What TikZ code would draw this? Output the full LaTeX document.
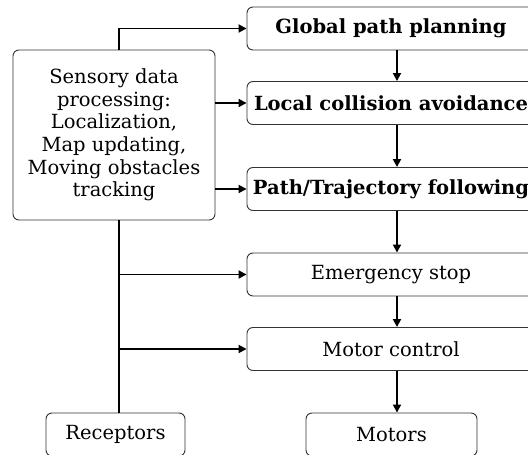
\documentclass[tikz,border=0pt]{standalone}
\usepackage{fontspec}
\setmainfont{DejaVu Serif}
\usetikzlibrary{arrows.meta, positioning, calc}

\begin{document}
\begin{tikzpicture}[x=1pt, y=-1pt,
    block/.style={draw=black!80, line width=0.9pt, rounded corners=6pt,
      align=center, font=\fontsize{19.5}{22.7}\selectfont, inner sep=0pt},
    wide/.style={block, minimum width=288pt, minimum height=43pt},
    bold/.style={font=\fontsize{19.5}{22.7}\bfseries},
    link/.style={line width=1.8pt, -{Triangle[length=8pt, width=8pt]}}]
  \useasboundingbox (0,0) rectangle (528,455);
  % Planner column
  \node[wide, bold] (glob) at (391,28.5) {Global path planning};
  \node[wide, bold] (local) at (391,103) {Local collision avoidance};
  \node[wide, bold] (follow) at (391,189) {Path/Trajectory following};
  \node[wide] (estop) at (391,274.5) {Emergency stop};
  \node[wide] (motctl) at (391,349) {Motor control};
  \node[block, minimum width=171pt, minimum height=43pt] (motors) at (391.5,434.5) {Motors};
  % Sensing side
  \node[block, minimum width=202pt, minimum height=170pt] (sens) at (114,135)
    {Sensory data\\processing:\\Localization,\\Map updating,\\Moving obstacles\\tracking};
  \node[block, minimum width=139pt, minimum height=43pt] (recep) at (115.5,434.5) {Receptors};
  \coordinate (bus) at (119,0);
  \coordinate (col) at (397,0);
  % Feeds from sensing
  \draw[link] (sens.north -| bus) |- (glob.west);
  \draw[link] (sens.east |- local.west) -- (local.west);
  \draw[link] (sens.east |- follow.west) -- (follow.west);
  \draw[line width=1.8pt] (sens.south -| bus) -- (recep.north -| bus);
  \draw[link] (bus |- estop.west) -- (estop.west);
  \draw[link] (bus |- motctl.west) -- (motctl.west);
  % Down the column
  \draw[link] (glob.south -| col) -- (local.north -| col);
  \draw[link] (local.south -| col) -- (follow.north -| col);
  \draw[link] (follow.south -| col) -- (estop.north -| col);
  \draw[link] (estop.south -| col) -- (motctl.north -| col);
  \draw[link] (motctl.south -| col) -- (motors.north -| col);
\end{tikzpicture}
\end{document}
